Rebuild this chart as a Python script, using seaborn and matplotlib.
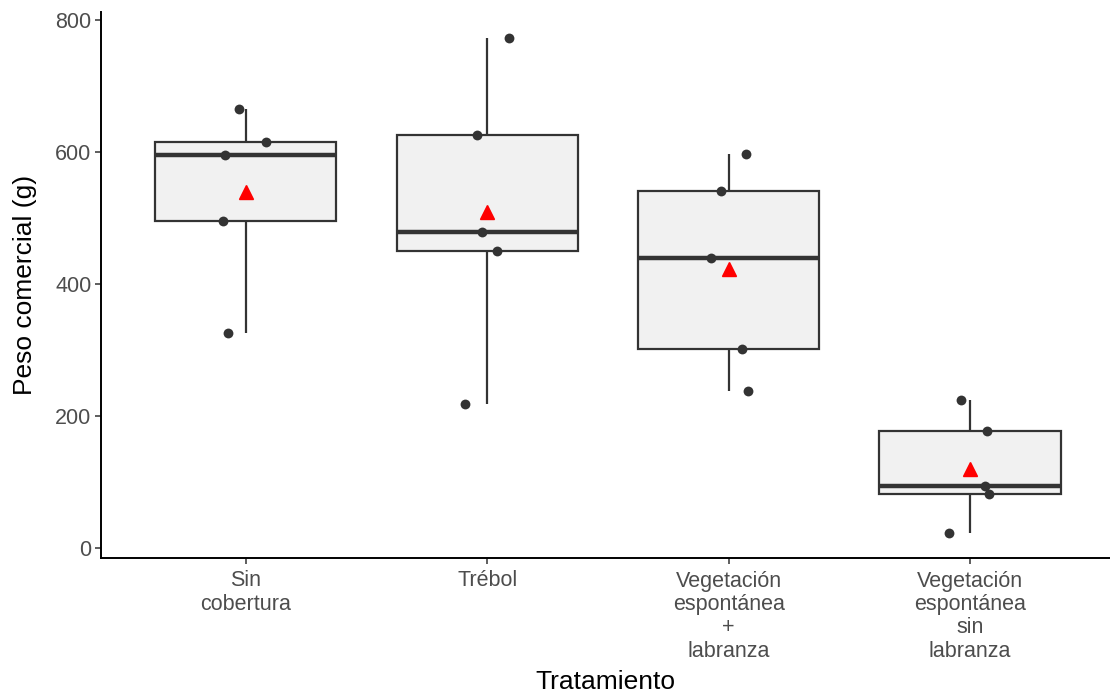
import numpy as np
import pandas as pd
import matplotlib
matplotlib.use("Agg")
import matplotlib.pyplot as plt
import seaborn as sns

# ---- data ----
categories = ["Sin\ncobertura", "Trébol", "Vegetación\nespontánea\n+\nlabranza",
              "Vegetación\nespontánea\nsin\nlabranza"]
sin_cobertura = [666, 616, 596, 496, 327]
trebol = [774, 627, 479, 450, 219]
veg_labranza = [597, 542, 440, 302, 239]
veg_sin_labranza = [225, 178, 94, 82, 24]
# horizontal jitter of each point (category units)
jitter_1 = [-0.030, 0.083, -0.087, -0.093, -0.072]
jitter_2 = [0.089, -0.041, -0.022, 0.039, -0.091]
jitter_3 = [0.072, -0.030, -0.074, 0.055, 0.081]
jitter_4 = [-0.036, 0.072, 0.064, 0.080, -0.087]
y_ticks = [0, 200, 400, 600, 800]

groups = [sin_cobertura, trebol, veg_labranza, veg_sin_labranza]
jitters = [jitter_1, jitter_2, jitter_3, jitter_4]
df = pd.DataFrame({
    "Tratamiento": np.repeat(categories, [len(g) for g in groups]),
    "Peso": np.concatenate(groups),
    "jit": np.concatenate(jitters),
})
df["Tratamiento"] = pd.Categorical(df["Tratamiento"], categories=categories, ordered=True)

sns.set_theme(style="ticks")
plt.rcParams["font.family"] = ["Liberation Sans", "DejaVu Sans"]

fig = plt.figure(figsize=(11.10, 6.92), dpi=100)
ax = fig.add_axes([101 / 1110, 1 - 558 / 692, 1009 / 1110, (558 - 12.5) / 692])

sns.boxplot(data=df, x="Tratamiento", y="Peso", order=categories, ax=ax,
            width=0.75, color="#F1F1F1", saturation=1, linecolor="#333333",
            linewidth=1.6, showcaps=False, showfliers=False, showmeans=True,
            medianprops=dict(linewidth=3.2, color="#333333"),
            whiskerprops=dict(linewidth=1.6, color="#333333"),
            meanprops=dict(marker="^", markerfacecolor="red", markeredgecolor="red",
                           markersize=10.5, zorder=5))

codes = df["Tratamiento"].cat.codes.to_numpy()
ax.scatter(codes + df["jit"].to_numpy(), df["Peso"], s=50, color="#333333",
           zorder=4, linewidths=0)

ax.set_xlim(-0.6, 3.58)
ax.set_ylim(-14.5, 812)
ax.set_yticks(y_ticks)
ax.set_yticklabels([str(v) for v in y_ticks])
for sp in ["top", "right"]:
    ax.spines[sp].set_visible(False)
for sp in ["left", "bottom"]:
    ax.spines[sp].set_linewidth(1.4)
    ax.spines[sp].set_color("black")
ax.tick_params(axis="both", length=4, width=1.1, color="#333333",
               labelsize=15.5, labelcolor="#4D4D4D", pad=3)
ax.tick_params(axis="x", pad=5)
for lab in ax.get_xticklabels():
    lab.set_linespacing(1.15)

ax.set_xlabel("Tratamiento", fontsize=19, color="black")
ax.set_ylabel("Peso comercial (g)", fontsize=19, color="black")
ax.xaxis.set_label_coords(0.5, -0.205)
ax.yaxis.set_label_coords(-0.063, 0.5)

fig.savefig("out.png", dpi=100, facecolor="white")
